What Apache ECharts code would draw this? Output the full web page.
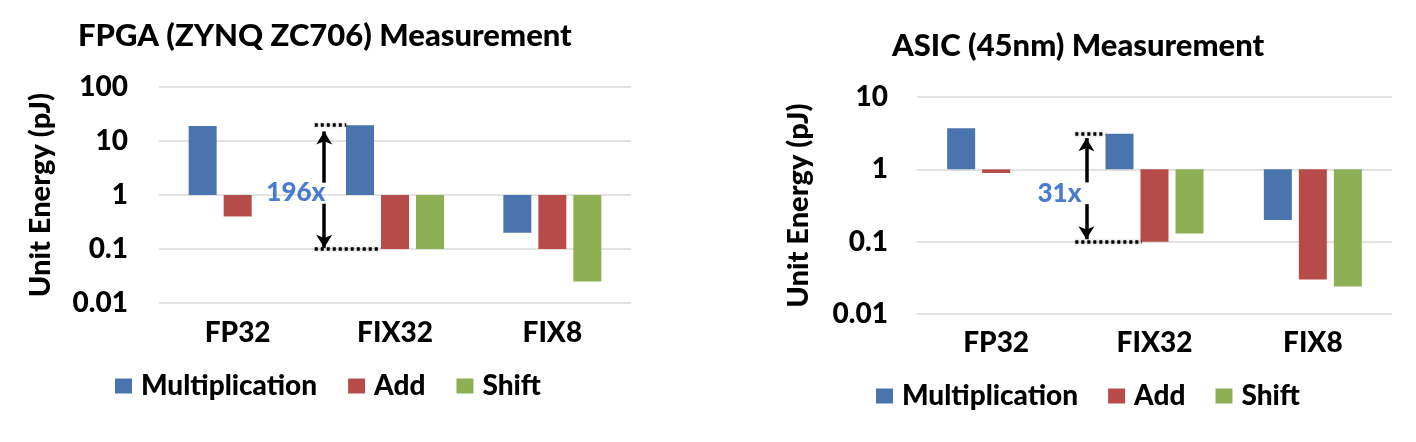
<!DOCTYPE html>
<html>
<head>
<meta charset="utf-8">
<script src="https://cdn.jsdelivr.net/npm/echarts@6/dist/echarts.min.js"></script>
<style>
  html, body { margin: 0; padding: 0; background: #fff; }
  #chart { width: 1416px; height: 442px; }
</style>
</head>
<body>
<div id="chart"></div>
<script>
// categories / series
const categories = ['FP32', 'FIX32', 'FIX8'];
const seriesNames = ['Multiplication', 'Add', 'Shift'];
const colors = ['#4A74AE', '#B74B49', '#8DB054'];

// FPGA (ZYNQ ZC706), pJ
const fpgaMul = [19, 19.6, 0.2];
const fpgaAdd = [0.4, 0.1, 0.1];
const fpgaShift = ['-', 0.1, 0.025];

// ASIC (45nm), pJ
const asicMul = [3.7, 3.1, 0.2];
const asicAdd = [0.89, 0.1, 0.03];
const asicShift = ['-', 0.13, 0.024];

// tick labels
const fpgaTicks = ['0.01', '0.1', '1', '10', '100'];
const asicTicks = ['0.01', '0.1', '1', '10'];

// annotations (x in category units: 0 = FP32, 1 = FIX32 ...)
const fpgaRatio = '196x';
const fpgaRatioPos = [0.37, 1.1];
const fpgaDots = [[[0.49, 19.6], [0.69, 19.6]], [[0.49, 0.1], [0.91, 0.1]]];
const fpgaArrows = [[[0.55, 1.69], [0.55, 15]], [[0.55, 0.69], [0.55, 0.105]]];

const asicRatio = '31x';
const asicRatioPos = [0.40, 0.46];
const asicDots = [[[0.5, 3.1], [0.69, 3.1]], [[0.5, 0.1], [0.92, 0.1]]];
const asicArrows = [[[0.57, 0.66], [0.57, 2.7]], [[0.57, 0.33], [0.57, 0.108]]];

const FONT = 'Lato';
const txt = { fontFamily: FONT, fontWeight: 900, color: '#000' };

function tickFmt(list) {
  return function (v) {
    const s = list.find(t => Math.abs(Math.log10(+t) - Math.log10(v)) < 1e-6);
    return s || '';
  };
}

function bars(data, i, grid) {
  return {
    name: seriesNames[i],
    type: 'bar',
    xAxisIndex: grid,
    yAxisIndex: grid,
    data: data,
    barWidth: 28,
    barGap: '25%',
    itemStyle: { color: colors[i] },
    animation: false
  };
}

function annot(grid, dots, arrows, label, pos) {
  const lines = [];
  dots.forEach(d => lines.push([
    { coord: d[0], symbol: 'none', lineStyle: { type: [3, 3], width: 3.5, color: '#000', shadowBlur: 3, shadowColor: 'rgba(0,0,0,0.35)' } },
    { coord: d[1], symbol: 'none' }
  ]));
  arrows.forEach(a => lines.push([
    { coord: a[0], symbol: 'none', lineStyle: { type: 'solid', width: 3.5, color: '#000' } },
    { coord: a[1], symbol: 'arrow', symbolSize: [12, 13] }
  ]));
  return {
    type: 'scatter',
    xAxisIndex: grid + 2,
    yAxisIndex: grid,
    data: [pos],
    symbolSize: 0,
    silent: true,
    animation: false,
    label: {
      show: true, position: 'inside', formatter: label,
      fontFamily: FONT, fontWeight: 900, fontSize: 26, color: '#1B5BC6'
    },
    markLine: {
      silent: true,
      animation: false,
      symbol: 'none',
      label: { show: false },
      data: lines
    }
  };
}

function catAxis(grid, margin) {
  return {
    type: 'category', gridIndex: grid, data: categories,
    axisLine: { show: false }, axisTick: { show: false },
    axisLabel: Object.assign({ fontSize: 28, margin: margin }, txt)
  };
}

function helperAxis(grid) {
  return { type: 'value', gridIndex: grid, min: -0.5, max: 2.5, show: false };
}

function logAxis(grid, min, max, ticks, margin) {
  return {
    type: 'log', logBase: 10, gridIndex: grid, min: min, max: max,
    name: 'Unit Energy (pJ)', nameLocation: 'middle', nameGap: 104,
    nameTextStyle: Object.assign({ fontSize: 29 }, txt),
    axisLine: { show: false }, axisTick: { show: false },
    axisLabel: Object.assign({ fontSize: 28, margin: margin, formatter: tickFmt(ticks) }, txt),
    splitLine: { lineStyle: { color: '#D9D9D9', width: 1.5 } }
  };
}

const chart = echarts.init(document.getElementById('chart'), null, { renderer: 'canvas' });

chart.setOption({
  backgroundColor: '#fff',
  title: [
    { text: 'FPGA (ZYNQ ZC706) Measurement', left: 78, top: 20, padding: 0,
      textStyle: Object.assign({ fontSize: 31 }, txt) },
    { text: 'ASIC (45nm) Measurement', left: 892, top: 30, padding: 0,
      textStyle: Object.assign({ fontSize: 31 }, txt) }
  ],
  legend: [
    { data: seriesNames, left: 115, top: 372, itemWidth: 17, itemHeight: 15, itemGap: 31,
      icon: 'rect', selectedMode: false, padding: 0,
      textStyle: Object.assign({ fontSize: 28, padding: [0, 0, 0, 4] }, txt) },
    { data: seriesNames, left: 876, top: 382, itemWidth: 17, itemHeight: 15, itemGap: 30,
      icon: 'rect', selectedMode: false, padding: 0,
      textStyle: Object.assign({ fontSize: 28, padding: [0, 0, 0, 4] }, txt) }
  ],
  grid: [
    { left: 159, top: 87, width: 472, height: 216 },
    { left: 917, top: 97, width: 475, height: 217 }
  ],
  xAxis: [catAxis(0, 16), catAxis(1, 15), helperAxis(0), helperAxis(1)],
  yAxis: [logAxis(0, 0.01, 100, fpgaTicks, 31), logAxis(1, 0.01, 10, asicTicks, 29)],
  series: [
    bars(fpgaMul, 0, 0), bars(fpgaAdd, 1, 0), bars(fpgaShift, 2, 0),
    bars(asicMul, 0, 1), bars(asicAdd, 1, 1), bars(asicShift, 2, 1),
    annot(0, fpgaDots, fpgaArrows, fpgaRatio, fpgaRatioPos),
    annot(1, asicDots, asicArrows, asicRatio, asicRatioPos)
  ]
});
</script>
</body>
</html>
